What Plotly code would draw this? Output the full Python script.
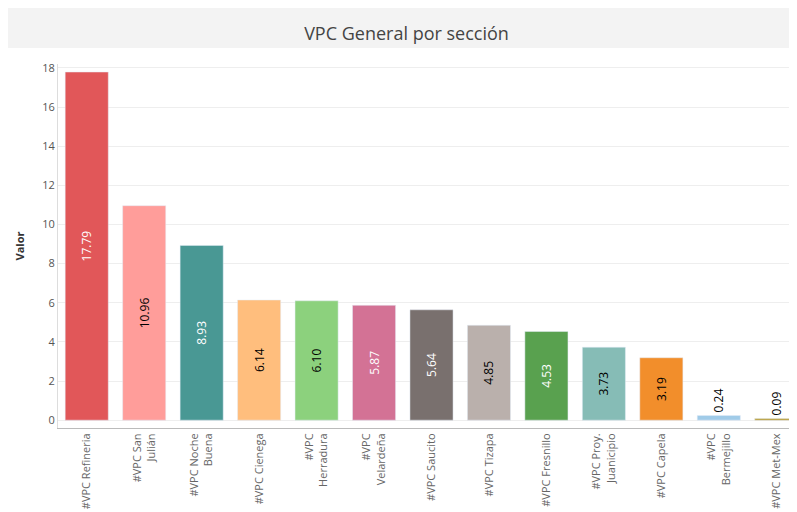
import plotly.graph_objects as go

secciones = ["#VPC Refineria", "#VPC San<br>Julián", "#VPC Noche<br>Buena", "#VPC Cienega",
             "#VPC<br>Herradura", "#VPC<br>Velardeña", "#VPC Saucito", "#VPC Tizapa",
             "#VPC Fresnillo", "#VPC Proy.<br>Juanicipio", "#VPC Capela", "#VPC<br>Bermejillo",
             "#VPC Met-Mex"]
valores = [17.79, 10.96, 8.93, 6.14, 6.10, 5.87, 5.64, 4.85, 4.53, 3.73, 3.19, 0.24, 0.09]
colores = ["#e15759", "#ff9d9a", "#499894", "#ffbe7d", "#8cd17d", "#d37295", "#79706e",
           "#bab0ac", "#59a14f", "#86bcb6", "#f28e2b", "#a0cbe8", "#b6992d"]
color_texto = ["white", "black", "white", "black", "black", "white", "white",
               "black", "white", "black", "black", "black", "black"]

posiciones = ["inside" if v > 1 else "outside" for v in valores]

fig = go.Figure(go.Bar(
    x=secciones, y=valores, marker_color=colores, width=0.75,
    text=[f"{v:.2f}" for v in valores], textposition=posiciones,
    insidetextanchor="middle", textangle=-90,
    textfont=dict(color=color_texto, size=12), constraintext="none",
    cliponaxis=False,
))

fig.update_layout(
    width=797, height=512, margin=dict(l=50, r=0, t=56, b=92),
    paper_bgcolor="white", plot_bgcolor="white",
    font=dict(family="Open Sans", color="#555", size=11),
    title=dict(text="VPC General por sección", x=0.5, y=0.962, xanchor="center",
               font=dict(size=18, color="#444")),
    showlegend=False,
    shapes=[dict(type="rect", xref="paper", yref="paper", x0=-0.1, x1=1.1,
                 y0=1 + 16 / 364, y1=1.3,
                 fillcolor="#f3f3f3", line_width=0, layer="below")],
)
fig.update_yaxes(range=[-0.4, 18.2], dtick=2, gridcolor="#eeeeee", zeroline=False,
                 title=dict(text="<b>Valor</b>", font=dict(size=11, color="#333")),
                 showline=True, linecolor="#ddd")
fig.update_xaxes(tickangle=-90, showline=True, linecolor="#bbb",
                 tickfont=dict(size=11, color="#666"))

fig.write_html("out.html")
